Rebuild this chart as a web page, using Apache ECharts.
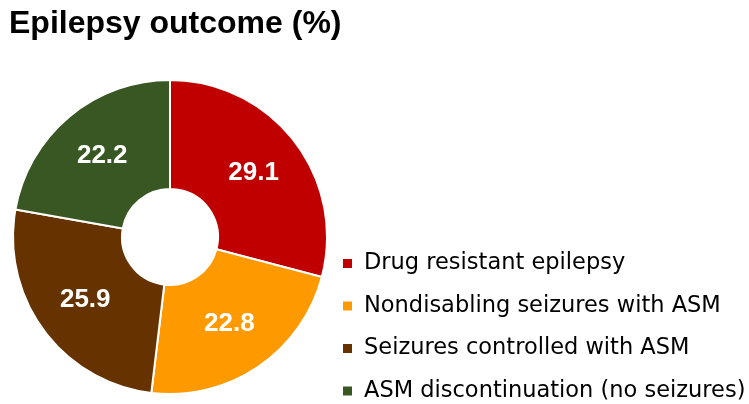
<!DOCTYPE html>
<html><head><meta charset="utf-8">
<script src="https://cdn.jsdelivr.net/npm/echarts@6/dist/echarts.min.js"></script>
<style>html,body{margin:0;padding:0;background:#fff}#c{width:749px;height:404px}</style>
</head><body><div id="c"></div>
<script>
var categories = ["Drug resistant epilepsy", "Nondisabling seizures with ASM", "Seizures controlled with ASM", "ASM discontinuation (no seizures)"];
var values = [29.1, 22.8, 25.9, 22.2];
var colors = ["#C00000", "#FF9900", "#663300", "#385723"];
var chart = echarts.init(document.getElementById('c'));
chart.setOption({
  animation: false,
  title: { text: "Epilepsy outcome (%)", left: 4, top: 3,
    textStyle: { fontFamily: "Liberation Sans", fontWeight: "bold", fontSize: 32, color: "#000" } },
  legend: {
    orient: "vertical", left: 341, top: 252, bottom: 0, padding: 0, itemWidth: 11, itemHeight: 11, itemGap: 19.5, icon: "rect",
    textStyle: { fontFamily: "DejaVu Sans", fontSize: 22.5, color: "#000", padding: [0,0,0,6] },
    data: categories
  },
  series: [{
    type: "pie", center: [170, 237], radius: [48, 157], startAngle: 90, clockwise: true,
    itemStyle: { borderColor: "#fff", borderWidth: 2 },
    label: { show: true, position: "inside", formatter: function(p){ return p.value.toFixed(1); },
      fontFamily: "Liberation Sans", fontWeight: "bold", fontSize: 26, color: "#fff" },
    labelLine: { show: false },
    emphasis: { disabled: true },
    data: categories.map(function(c, i){ return { name: c, value: values[i], itemStyle: { color: colors[i] } }; })
  }]
});
</script></body></html>
